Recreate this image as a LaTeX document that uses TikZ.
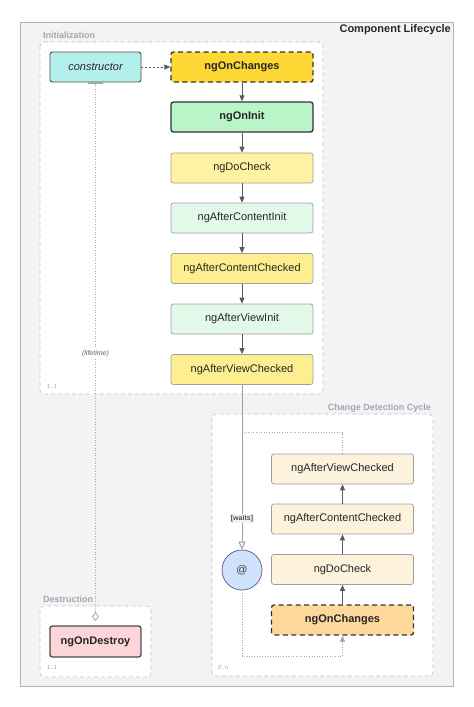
\documentclass[tikz,border=0pt]{standalone}
\usepackage{fontspec}
\setmainfont{Liberation Sans}
\usetikzlibrary{arrows.meta}
\definecolor{bgc}{HTML}{F2F3F5}
\definecolor{grp}{HTML}{A3A7AD}
\definecolor{lnc}{HTML}{555A60}
\definecolor{cya}{HTML}{B4F0EB}
\definecolor{gld}{HTML}{FDD835}
\definecolor{grn}{HTML}{BAF5C9}
\definecolor{ylw}{HTML}{FFF3A3}
\definecolor{mnt}{HTML}{E2F8E8}
\definecolor{ylx}{HTML}{FDEF8F}
\definecolor{crm}{HTML}{FDF2DC}
\definecolor{org}{HTML}{FDD89B}
\definecolor{blu}{HTML}{CFE2FC}
\definecolor{pnk}{HTML}{FCD5D8}
\tikzset{
  hook/.style={draw=gray!75,rounded corners=2.5pt,minimum width=142pt,minimum height=30pt,
    font=\fontsize{11}{13}\selectfont,text=black!85,line width=0.7pt},
  key/.style={draw=black!80,line width=1.3pt},
  opt/.style={key,dash pattern=on 5pt off 3.5pt},
  grpbox/.style={draw=gray!45,fill=white,dash pattern=on 4pt off 3pt,rounded corners=4pt,line width=0.7pt},
  grplbl/.style={text=grp,font=\fontsize{9}{10}\selectfont\bfseries,inner sep=0pt},
  mult/.style={text=gray!70,font=\fontsize{6}{7}\selectfont,inner sep=0pt},
  flow/.style={draw=lnc,line width=0.8pt,-{Triangle[width=5pt,length=6pt]}},
  loop/.style={draw=gray!70,line width=0.9pt,dash pattern=on 1pt off 1.6pt},
}
\begin{document}
\begin{tikzpicture}[x=1pt,y=-1pt]
\useasboundingbox (0,0) rectangle (474,707);
\draw[draw=gray!60,fill=bgc,line width=0.8pt] (20,22) rectangle (453,686);
\node[anchor=north east,inner sep=0pt,font=\fontsize{11}{13}\selectfont\bfseries,text=black!85] (ttl) at (451,24) {Component Lifecycle};

\draw[grpbox] (40,42) rectangle (323,394);
\node[grplbl,anchor=base west] (gi) at (43,38) {Initialization};
\node[mult,anchor=base west] (mi) at (47,388) {1..1};
\draw[grpbox] (212,414) rectangle (433,676);
\node[grplbl,anchor=base east] (gc) at (431,410) {Change Detection Cycle};
\node[mult,anchor=base west] (mc) at (218,669) {\itshape 0..n};
\draw[grpbox] (40,606) rectangle (151,677);
\node[grplbl,anchor=base west] (gd) at (43,602) {Destruction};
\node[mult,anchor=base west] (md) at (47,669) {1..1};

\node[hook,fill=cya,draw=black!70,line width=0.9pt,minimum width=91pt] (ctor) at (95.5,67) {\itshape constructor};
\node[hook,opt,fill=gld] (ch) at (242,67) {\bfseries ngOnChanges};
\node[hook,key,fill=grn] (oi) at (242,117) {\bfseries ngOnInit};
\node[hook,fill=ylw] (dc) at (242,168) {ngDoCheck};
\node[hook,fill=mnt] (aci) at (242,218) {ngAfterContentInit};
\node[hook,fill=ylx] (acc) at (242,268.5) {ngAfterContentChecked};
\node[hook,fill=mnt] (avi) at (242,319) {ngAfterViewInit};
\node[hook,fill=ylx] (avc) at (242,369.5) {ngAfterViewChecked};

\node[hook,fill=crm] (cavc) at (342.5,469) {ngAfterViewChecked};
\node[hook,fill=crm] (cacc) at (342.5,519) {ngAfterContentChecked};
\node[hook,fill=crm] (cdc) at (342.5,569.5) {ngDoCheck};
\node[hook,opt,fill=org] (cch) at (342.5,620) {\bfseries ngOnChanges};

\node[circle,draw=gray!80!blue,fill=blu,line width=0.8pt,minimum size=40pt,inner sep=0pt,
  font=\fontsize{11}{13}\selectfont,text=black!75] (at) at (242,570) {@};
\node[hook,key,draw=black!70,fill=pnk,minimum width=91pt,minimum height=31pt] (od) at (95.5,641.5) {\bfseries ngOnDestroy};

\draw[flow,dash pattern=on 2pt off 2pt] (ctor) -- (ch);
\draw[flow] (ch) -- (oi);
\draw[flow] (oi) -- (dc);
\draw[flow] (dc) -- (aci);
\draw[flow] (aci) -- (acc);
\draw[flow] (acc) -- (avi);
\draw[flow] (avi) -- (avc);
\draw[flow] (cch) -- (cdc);
\draw[flow] (cdc) -- (cacc);
\draw[flow] (cacc) -- (cavc);

\draw[draw=gray!75,line width=1pt,-{Triangle[open,width=7pt,length=8pt]}] (avc) -- (at)
  node[pos=0.81,fill=bgc,inner sep=1pt,font=\fontsize{7}{8}\selectfont\bfseries,text=black!70] (wt) {[waits]};
\draw[loop] (cavc.north) -- ++(0,-21) -| (244,433);
\draw[loop,-{Triangle[width=5pt,length=6pt]}] (at.south) -- (242,656) -| (cch.south);

\draw[loop,{Bar[width=15pt,line width=1.6pt]}-{Diamond[open,width=7pt,length=9pt,line width=0.8pt]}] (ctor.south) -- (95.5,621)
  node[pos=0.503,fill=white,inner sep=1pt,font=\fontsize{7}{8}\selectfont\itshape,text=black!60] (lt) {(lifetime)};
\end{tikzpicture}
\end{document}
